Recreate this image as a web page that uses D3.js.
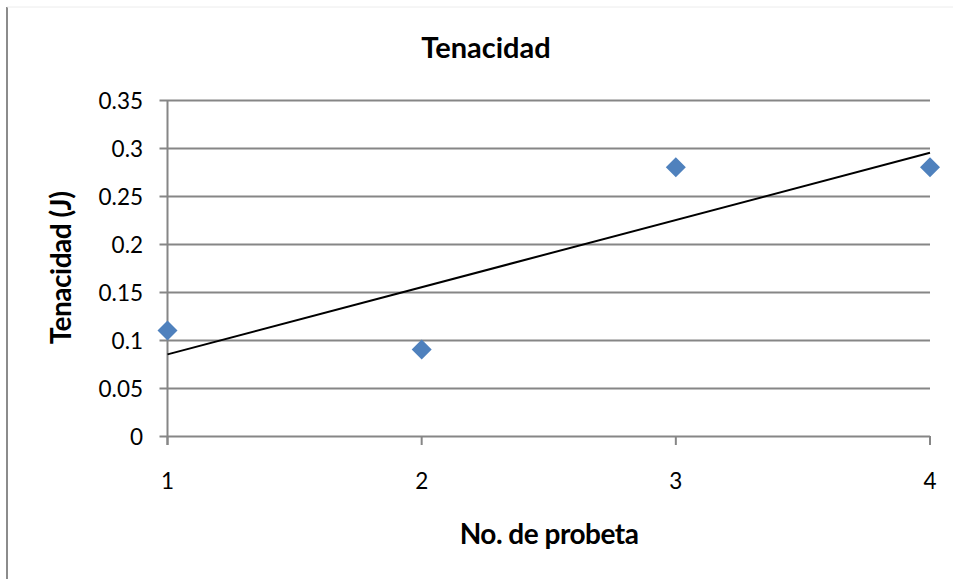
<!DOCTYPE html>
<html>
<head>
<meta charset="utf-8">
<script src="https://cdn.jsdelivr.net/npm/d3@7/dist/d3.min.js"></script>
<style>
  html, body { margin: 0; padding: 0; background: #fff; }
  svg { display: block; }
  text { font-family: Lato, "Open Sans", "Noto Sans", sans-serif; fill: #000; }
</style>
</head>
<body>
<svg id="chart" width="953" height="579"></svg>
<script>
// Specimen numbers and measured toughness (J)
const probetas = [1, 2, 3, 4];
const tenacidad = [0.11, 0.09, 0.28, 0.28];
const yTicks = [0, 0.05, 0.1, 0.15, 0.2, 0.25, 0.3, 0.35];
const xTicks = [1, 2, 3, 4];

const svg = d3.select("#chart");
const W = 953, H = 579;
const plot = { left: 167.5, right: 930, top: 100, bottom: 436 };

const x = d3.scaleLinear().domain([1, 4]).range([plot.left, plot.right]);
const y = d3.scaleLinear().domain([0, 0.35]).range([plot.bottom, plot.top]);

// Outer frame: left edge and faint top edge
svg.append("line").attr("x1", 7).attr("x2", 7).attr("y1", 7).attr("y2", H)
  .attr("stroke", "#8c8c8c").attr("stroke-width", 2);
svg.append("line").attr("x1", 7).attr("x2", W).attr("y1", 7).attr("y2", 7)
  .attr("stroke", "#ececec").attr("stroke-width", 1);

// Horizontal gridlines with left tick stubs
const gridColor = "#868686";
svg.append("g").selectAll("line").data(yTicks).join("line")
  .attr("x1", plot.left - 8).attr("x2", plot.right)
  .attr("y1", d => Math.round(y(d)) + 0.5).attr("y2", d => Math.round(y(d)) + 0.5)
  .attr("stroke", gridColor).attr("stroke-width", 2);

// Vertical axis line
svg.append("line")
  .attr("x1", plot.left).attr("x2", plot.left)
  .attr("y1", plot.top).attr("y2", plot.bottom + 9)
  .attr("stroke", gridColor).attr("stroke-width", 2);

// X tick marks below the baseline
svg.append("g").selectAll("line").data(xTicks).join("line")
  .attr("x1", d => x(d)).attr("x2", d => x(d))
  .attr("y1", plot.bottom).attr("y2", plot.bottom + 9)
  .attr("stroke", gridColor).attr("stroke-width", 2);

// Y tick labels
svg.append("g").selectAll("text").data(yTicks).join("text")
  .attr("x", 143).attr("y", d => y(d))
  .attr("text-anchor", "end").attr("dominant-baseline", "central")
  .style("font-size", "22.5px")
  .text(d => d3.format("")(d));

// X tick labels
svg.append("g").selectAll("text").data(xTicks).join("text")
  .attr("x", d => x(d)).attr("y", 480)
  .attr("text-anchor", "middle").attr("dominant-baseline", "central")
  .style("font-size", "22.5px")
  .text(d => d);

// Linear least-squares trendline
const mx = d3.mean(probetas), my = d3.mean(tenacidad);
const sxy = d3.sum(probetas, (p, i) => (p - mx) * (tenacidad[i] - my));
const sxx = d3.sum(probetas, p => (p - mx) ** 2);
const slope = sxy / sxx, intercept = my - slope * mx;
svg.append("line")
  .attr("x1", x(1)).attr("y1", y(intercept + slope * 1))
  .attr("x2", x(4)).attr("y2", y(intercept + slope * 4))
  .attr("stroke", "#000").attr("stroke-width", 2);

// Diamond markers
const diamond = d3.symbol().type(d3.symbolSquare).size(200);
svg.append("g").selectAll("path").data(probetas).join("path")
  .attr("d", diamond)
  .attr("transform", (d, i) => `translate(${x(d)},${y(tenacidad[i])}) rotate(45)`)
  .attr("fill", "#4f81bd");

// Titles
svg.append("text").attr("x", 486).attr("y", 46)
  .attr("text-anchor", "middle").attr("dominant-baseline", "central")
  .style("font-size", "29px").style("font-weight", "bold")
  .text("Tenacidad");

svg.append("text").attr("x", 549).attr("y", 533)
  .attr("text-anchor", "middle").attr("dominant-baseline", "central")
  .style("font-size", "28px").style("font-weight", "bold")
  .style("letter-spacing", "-0.5px")
  .text("No. de probeta");

svg.append("text")
  .attr("transform", "translate(60,268) rotate(-90)")
  .attr("text-anchor", "middle").attr("dominant-baseline", "central")
  .style("font-size", "28px").style("font-weight", "bold")
  .style("letter-spacing", "-0.5px")
  .text("Tenacidad (J)");
</script>
</body>
</html>
